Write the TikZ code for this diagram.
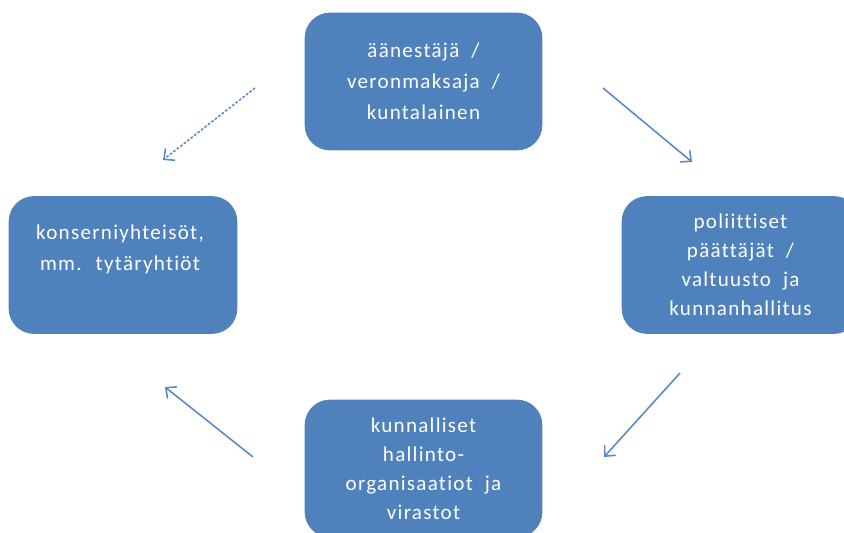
\documentclass[tikz,border=0pt]{standalone}
\usepackage{fontspec}
\setmainfont[LetterSpace=6,Ligatures=NoCommon]{Carlito}
\usetikzlibrary{arrows.meta}

\definecolor{sininen}{HTML}{4F81BD}
\definecolor{nuolisin}{HTML}{5A8AC6}

\tikzset{
  laatikko/.style={rectangle, rounded corners=0.5cm, fill=sininen, draw=sininen,
    minimum width=4.74cm, minimum height=2.74cm, text=white, align=center,
    font=\fontsize{12}{16.5}\selectfont},
  harva/.style={font=\fontsize{12}{17.6}\selectfont},
  teksti/.style={text=white, align=center, harva},
  nuoli/.style={draw=nuolisin, line width=0.9pt, -{Straight Barb[length=1.6mm,width=3mm]}}
}

\begin{document}
\begin{tikzpicture}[x=0.02cm,y=-0.02cm]

\useasboundingbox (0,0) rectangle (844,532);

\node[laatikko, harva] (AV) at (423.5,81.5) {äänestäjä \ /\\veronmaksaja \ /\\kuntalainen};

\node[laatikko] (PP) at (740.5,265) {poliittiset\\päättäjät \ /\\valtuusto \ ja\\kunnanhallitus};

\node[laatikko] (KH) at (423.5,468.5) {kunnalliset\\hallinto-\\organisaatiot \ ja\\virastot};

\node[laatikko, minimum width=4.56cm] (KY) at (123,265) {};
\node[teksti] (KYt) at (120,249) {konserniyhteisöt,\\mm. \ tytäryhtiöt};

\coordinate (a1) at (603,88);
\coordinate (a2) at (692,162);
\draw[nuoli] (a1) -- (a2);

\coordinate (b1) at (680,373);
\coordinate (b2) at (604,457);
\draw[nuoli] (b1) -- (b2);

\coordinate (c1) at (253,457);
\coordinate (c2) at (165,387);
\draw[nuoli] (c1) -- (c2);

\coordinate (d1) at (255,88);
\coordinate (d2) at (163,160);
\draw[nuoli, dash pattern=on 1.5pt off 1pt] (d1) -- (d2);

\end{tikzpicture}
\end{document}
